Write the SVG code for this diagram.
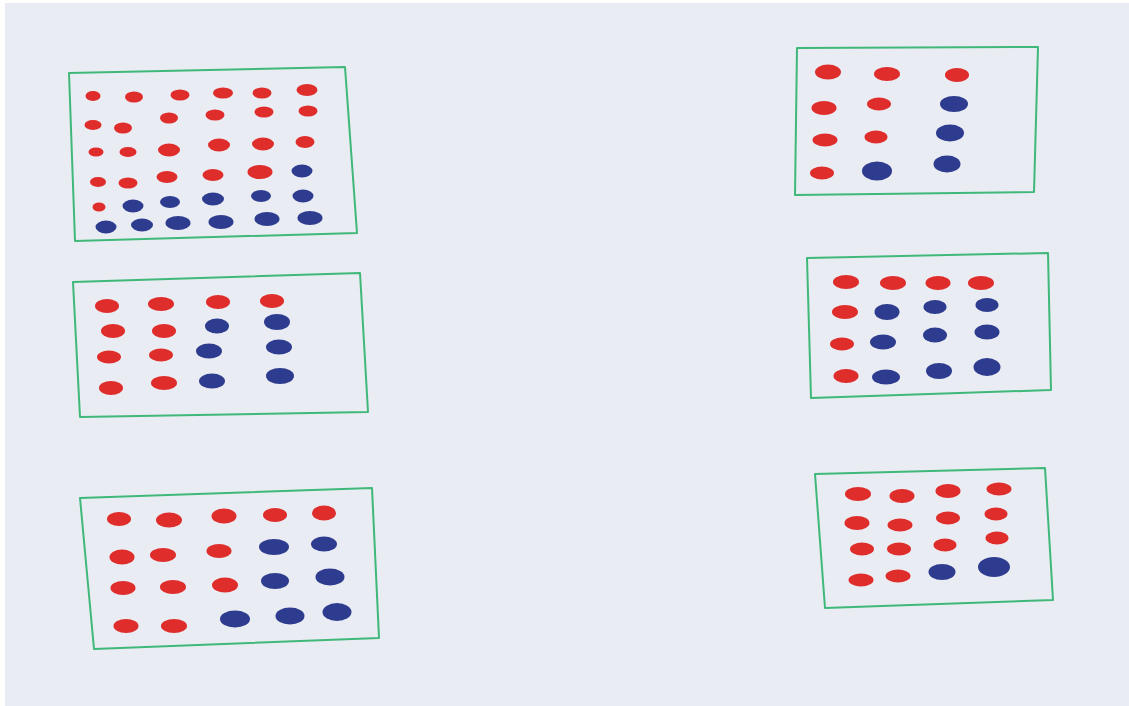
<svg xmlns="http://www.w3.org/2000/svg" width="1129" height="706" viewBox="0 0 1129 706">
<style>
.frame{fill:none;stroke:#3fb87a;stroke-width:2;stroke-linejoin:round}
.r{fill:#df2d2b}
.b{fill:#2d3c8e}
</style>
<rect x="0" y="0" width="1129" height="706" fill="#ffffff"/>
<rect x="5" y="3" width="1124" height="703" fill="#eaecf3"/>
<g id="box1">
<polygon class="frame" points="69,73 345,67 357,233 75,241"/>
<ellipse class="r" cx="93" cy="96" rx="7.5" ry="5"/>
<ellipse class="r" cx="134" cy="97" rx="9" ry="5.5"/>
<ellipse class="r" cx="180" cy="95" rx="9.5" ry="5.5"/>
<ellipse class="r" cx="223" cy="93" rx="10" ry="5.5"/>
<ellipse class="r" cx="262" cy="93" rx="9.5" ry="5.5"/>
<ellipse class="r" cx="307" cy="90" rx="10.5" ry="6"/>
<ellipse class="r" cx="93" cy="125" rx="8.5" ry="5"/>
<ellipse class="r" cx="123" cy="128" rx="9" ry="5.5"/>
<ellipse class="r" cx="169" cy="118" rx="9" ry="5.5"/>
<ellipse class="r" cx="215" cy="115" rx="9.5" ry="5.5"/>
<ellipse class="r" cx="264" cy="112" rx="9.5" ry="5.5"/>
<ellipse class="r" cx="308" cy="111" rx="9.5" ry="5.5"/>
<ellipse class="r" cx="96" cy="152" rx="7.5" ry="4.5"/>
<ellipse class="r" cx="128" cy="152" rx="8.5" ry="5"/>
<ellipse class="r" cx="169" cy="150" rx="11" ry="6.5"/>
<ellipse class="r" cx="219" cy="145" rx="11" ry="6.5"/>
<ellipse class="r" cx="263" cy="144" rx="11" ry="6.5"/>
<ellipse class="r" cx="305" cy="142" rx="9.5" ry="6"/>
<ellipse class="r" cx="98" cy="182" rx="8" ry="5"/>
<ellipse class="r" cx="128" cy="183" rx="9.5" ry="5.5"/>
<ellipse class="r" cx="167" cy="177" rx="10.5" ry="6"/>
<ellipse class="r" cx="213" cy="175" rx="10.5" ry="6"/>
<ellipse class="r" cx="260" cy="172" rx="12.5" ry="7"/>
<ellipse class="b" cx="302" cy="171" rx="10.5" ry="6.5"/>
<ellipse class="r" cx="99" cy="207" rx="6.5" ry="4.5"/>
<ellipse class="b" cx="133" cy="206" rx="10.5" ry="6.5"/>
<ellipse class="b" cx="170" cy="202" rx="10" ry="6"/>
<ellipse class="b" cx="213" cy="199" rx="11" ry="6.5"/>
<ellipse class="b" cx="261" cy="196" rx="10" ry="6"/>
<ellipse class="b" cx="303" cy="196" rx="10.5" ry="6.5"/>
<ellipse class="b" cx="106" cy="227" rx="10.5" ry="6.5"/>
<ellipse class="b" cx="142" cy="225" rx="11" ry="6.5"/>
<ellipse class="b" cx="178" cy="223" rx="12.5" ry="7"/>
<ellipse class="b" cx="221" cy="222" rx="12.5" ry="7"/>
<ellipse class="b" cx="267" cy="219" rx="12.5" ry="7"/>
<ellipse class="b" cx="310" cy="218" rx="12.5" ry="7"/>
</g>
<g id="box2">
<polygon class="frame" points="73,282 360,273 368,412 80,417"/>
<ellipse class="r" cx="107" cy="306" rx="12" ry="7"/>
<ellipse class="r" cx="161" cy="304" rx="13" ry="7"/>
<ellipse class="r" cx="218" cy="302" rx="12" ry="7"/>
<ellipse class="r" cx="272" cy="301" rx="12" ry="7"/>
<ellipse class="r" cx="113" cy="331" rx="12" ry="7"/>
<ellipse class="r" cx="164" cy="331" rx="12" ry="7"/>
<ellipse class="b" cx="217" cy="326" rx="12" ry="7.5"/>
<ellipse class="b" cx="277" cy="322" rx="13" ry="8"/>
<ellipse class="r" cx="109" cy="357" rx="12" ry="6.5"/>
<ellipse class="r" cx="161" cy="355" rx="12" ry="6.5"/>
<ellipse class="b" cx="209" cy="351" rx="13" ry="7.5"/>
<ellipse class="b" cx="279" cy="347" rx="13" ry="7.5"/>
<ellipse class="r" cx="111" cy="388" rx="12" ry="7"/>
<ellipse class="r" cx="164" cy="383" rx="13" ry="7"/>
<ellipse class="b" cx="212" cy="381" rx="13" ry="7.5"/>
<ellipse class="b" cx="280" cy="376" rx="14" ry="8"/>
</g>
<g id="box3">
<polygon class="frame" points="80,498 372,488 379,638 94,649"/>
<ellipse class="r" cx="119" cy="519" rx="12" ry="7"/>
<ellipse class="r" cx="169" cy="520" rx="13" ry="7.5"/>
<ellipse class="r" cx="224" cy="516" rx="12.5" ry="7.5"/>
<ellipse class="r" cx="275" cy="515" rx="12" ry="7"/>
<ellipse class="r" cx="324" cy="513" rx="12" ry="7.5"/>
<ellipse class="r" cx="122" cy="557" rx="12.5" ry="7.5"/>
<ellipse class="r" cx="163" cy="555" rx="13" ry="7"/>
<ellipse class="r" cx="219" cy="551" rx="12.5" ry="7"/>
<ellipse class="b" cx="274" cy="547" rx="15" ry="8"/>
<ellipse class="b" cx="324" cy="544" rx="13" ry="7.5"/>
<ellipse class="r" cx="123" cy="588" rx="12.5" ry="7"/>
<ellipse class="r" cx="173" cy="587" rx="13" ry="7"/>
<ellipse class="r" cx="225" cy="585" rx="13" ry="7.5"/>
<ellipse class="b" cx="275" cy="581" rx="14" ry="8"/>
<ellipse class="b" cx="330" cy="577" rx="14.5" ry="8.5"/>
<ellipse class="r" cx="126" cy="626" rx="12.5" ry="7"/>
<ellipse class="r" cx="174" cy="626" rx="13" ry="7"/>
<ellipse class="b" cx="235" cy="619" rx="15" ry="8.5"/>
<ellipse class="b" cx="290" cy="616" rx="14.5" ry="8.5"/>
<ellipse class="b" cx="337" cy="612" rx="14.5" ry="9"/>
</g>
<g id="box4">
<polygon class="frame" points="797,48 1038,47 1034,192 795,195"/>
<ellipse class="r" cx="828" cy="72" rx="13" ry="7.5"/>
<ellipse class="r" cx="887" cy="74" rx="13" ry="7"/>
<ellipse class="r" cx="957" cy="75" rx="12" ry="7"/>
<ellipse class="r" cx="824" cy="108" rx="12.5" ry="7"/>
<ellipse class="r" cx="879" cy="104" rx="12" ry="6.5"/>
<ellipse class="b" cx="954" cy="104" rx="14" ry="8"/>
<ellipse class="r" cx="825" cy="140" rx="12.5" ry="6.5"/>
<ellipse class="r" cx="876" cy="137" rx="11.5" ry="6.5"/>
<ellipse class="b" cx="950" cy="133" rx="14" ry="8.5"/>
<ellipse class="r" cx="822" cy="173" rx="12" ry="6.5"/>
<ellipse class="b" cx="877" cy="171" rx="15" ry="9.5"/>
<ellipse class="b" cx="947" cy="164" rx="13.5" ry="8.5"/>
</g>
<g id="box5">
<polygon class="frame" points="807,258 1048,253 1051,390 811,398"/>
<ellipse class="r" cx="846" cy="282" rx="13" ry="7"/>
<ellipse class="r" cx="893" cy="283" rx="13" ry="7"/>
<ellipse class="r" cx="938" cy="283" rx="12.5" ry="7"/>
<ellipse class="r" cx="981" cy="283" rx="13" ry="7"/>
<ellipse class="r" cx="845" cy="312" rx="13" ry="7"/>
<ellipse class="b" cx="887" cy="312" rx="12.5" ry="8"/>
<ellipse class="b" cx="935" cy="307" rx="11.5" ry="7"/>
<ellipse class="b" cx="987" cy="305" rx="11.5" ry="7"/>
<ellipse class="r" cx="842" cy="344" rx="12" ry="6.5"/>
<ellipse class="b" cx="883" cy="342" rx="13" ry="7.5"/>
<ellipse class="b" cx="935" cy="335" rx="12" ry="7.5"/>
<ellipse class="b" cx="987" cy="332" rx="12.5" ry="7.5"/>
<ellipse class="r" cx="846" cy="376" rx="12.5" ry="7"/>
<ellipse class="b" cx="886" cy="377" rx="14" ry="7.5"/>
<ellipse class="b" cx="939" cy="371" rx="13" ry="8"/>
<ellipse class="b" cx="987" cy="367" rx="13.5" ry="9"/>
</g>
<g id="box6">
<polygon class="frame" points="815,474 1045,468 1053,600 825,608"/>
<ellipse class="r" cx="858" cy="494" rx="13" ry="7"/>
<ellipse class="r" cx="902" cy="496" rx="12.5" ry="7"/>
<ellipse class="r" cx="948" cy="491" rx="12.5" ry="7"/>
<ellipse class="r" cx="999" cy="489" rx="12.5" ry="6.5"/>
<ellipse class="r" cx="857" cy="523" rx="12.5" ry="7"/>
<ellipse class="r" cx="900" cy="525" rx="12.5" ry="6.5"/>
<ellipse class="r" cx="948" cy="518" rx="12" ry="6.5"/>
<ellipse class="r" cx="996" cy="514" rx="11.5" ry="6.5"/>
<ellipse class="r" cx="862" cy="549" rx="12" ry="6.5"/>
<ellipse class="r" cx="899" cy="549" rx="12" ry="6.5"/>
<ellipse class="r" cx="945" cy="545" rx="11.5" ry="6.5"/>
<ellipse class="r" cx="997" cy="538" rx="11.5" ry="6.5"/>
<ellipse class="r" cx="861" cy="580" rx="12.5" ry="6.5"/>
<ellipse class="r" cx="898" cy="576" rx="12.5" ry="6.5"/>
<ellipse class="b" cx="942" cy="572" rx="13.5" ry="8"/>
<ellipse class="b" cx="994" cy="567" rx="16" ry="10"/>
</g>
</svg>
